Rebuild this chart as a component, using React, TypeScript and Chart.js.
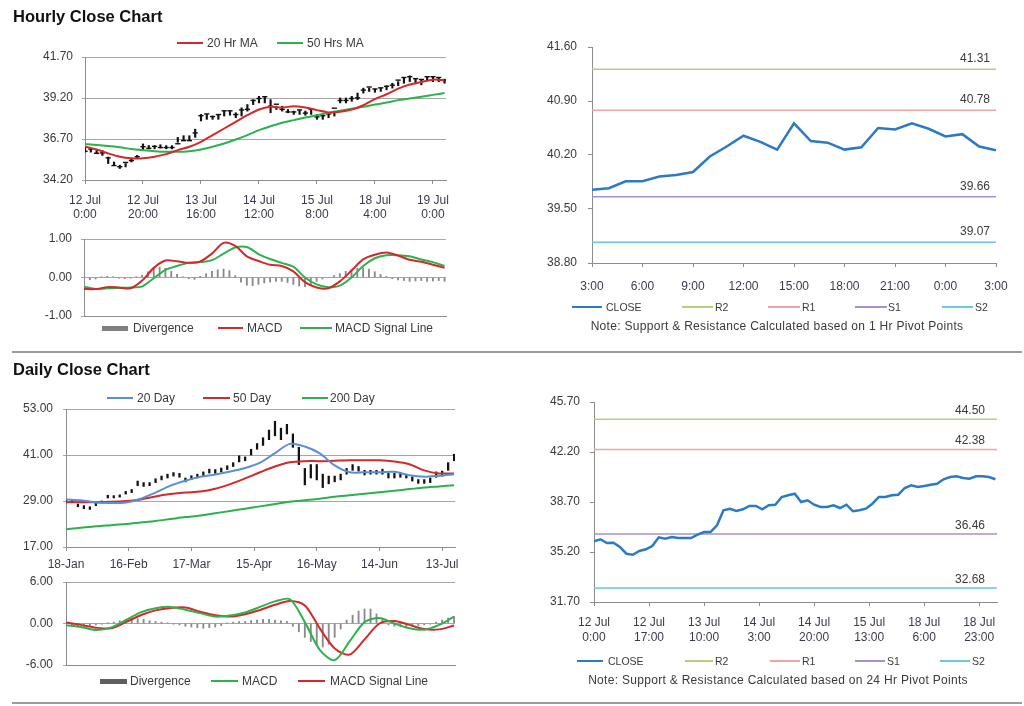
import React, { useEffect, useRef } from "react";
import { Chart, registerables } from "chart.js";

Chart.register(...registerables);

const FONT = '"Liberation Sans", Arial, Helvetica, sans-serif';
Chart.defaults.font.family = FONT;

// ---------------- DATA ----------------
// Hourly close chart (bars every 2 hours, MA / MACD every 4 hours)
const hourlyTickBars = [0, 20, 40, 60, 80, 100, 120];
const hourlyTickLabels = [
  ["12 Jul", "0:00"], ["12 Jul", "20:00"], ["13 Jul", "16:00"], ["14 Jul", "12:00"],
  ["15 Jul", "8:00"], ["18 Jul", "4:00"], ["19 Jul", "0:00"],
];
const hourlyPriceTicks = [34.2, 36.7, 39.2, 41.7];
const hourlyLow = [
  35.9, 35.9, 35.8, 35.7, 35.2, 35.1, 34.9, 35.0, 35.3, 35.5,
  36.0, 36.1, 36.1, 36.15, 36.1, 36.1, 36.5, 36.6, 36.6, 36.8,
  37.8, 37.9, 37.9, 37.9, 38.1, 38.15, 38.0, 38.1, 38.4, 38.8,
  38.9, 38.9, 38.3, 38.5, 38.4, 38.3, 38.2, 38.2, 38.15, 38.2,
  37.9, 37.9, 38.0, 38.1, 38.9, 38.9, 39.0, 39.1, 39.5, 39.6,
  39.55, 39.6, 39.7, 39.8, 39.95, 40.1, 40.2, 40.1, 40.0, 40.25,
  40.2, 40.2, 40.1,
];
const hourlyHigh = [
  36.2, 36.1, 36.0, 36.0, 35.6, 35.3, 35.1, 35.2, 35.5, 35.7,
  36.4, 36.3, 36.3, 36.35, 36.3, 36.3, 36.8, 36.9, 36.9, 37.3,
  38.2, 38.2, 38.1, 38.2, 38.4, 38.4, 38.3, 38.6, 38.8, 39.1,
  39.3, 39.3, 39.1, 38.7, 38.7, 38.5, 38.4, 38.45, 38.4, 38.5,
  38.2, 38.2, 38.3, 38.4, 39.2, 39.2, 39.3, 39.5, 39.8, 39.8,
  39.75, 39.8, 39.95, 40.1, 40.2, 40.4, 40.55, 40.35, 40.3, 40.5,
  40.5, 40.45, 40.35,
];
// hourly closes (every 2 hours, 12 Jul 0:00 -> 19 Jul), shown in both hourly price and 24-hr pivot charts
const hourlyClose = [
  35.95, 36.09, 35.83, 35.85, 35.55, 35.08, 35.01, 35.27, 35.39, 35.62,
  36.23, 36.13, 36.25, 36.18, 36.18, 36.18, 36.41, 36.6, 36.6, 37.07,
  38.12, 38.23, 38.07, 38.19, 38.42, 38.42, 38.19, 38.47, 38.51, 39.05,
  39.17, 39.28, 38.7, 38.82, 38.51, 38.35, 38.35, 38.47, 38.28, 38.51,
  38.05, 38.12, 38.23, 38.58, 39.05, 39.05, 39.17, 39.21, 39.68, 39.87,
  39.75, 39.82, 39.91, 39.98, 40.29, 40.45, 40.5, 40.38, 40.33, 40.5,
  40.5, 40.45, 40.29,
];
const hourlyMA20 = [
  36.23, 36.06, 35.82, 35.62, 35.52, 35.52, 35.62, 35.78,
  36.02, 36.23, 36.53, 36.94, 37.34, 37.75, 38.15, 38.5,
  38.66, 38.62, 38.7, 38.62, 38.46, 38.32, 38.36, 38.5,
  38.76, 39.13, 39.43, 39.77, 40.02, 40.18, 40.32, 40.28,
];
const hourlyMA50 = [
  36.39, 36.33, 36.27, 36.19, 36.09, 36.02, 35.96, 35.92,
  35.92, 35.96, 36.06, 36.23, 36.43, 36.67, 36.94, 37.24,
  37.48, 37.69, 37.85, 38.01, 38.15, 38.29, 38.42, 38.54,
  38.66, 38.8, 38.92, 39.07, 39.17, 39.27, 39.39, 39.51,
];
const hourlyMacdTicks = [-1, 0, 1];
const hourlyMacd = [
  -0.3, -0.3, -0.25, -0.26, -0.28, -0.08, 0.25, 0.44,
  0.42, 0.38, 0.42, 0.62, 0.9, 0.82, 0.55, 0.43,
  0.33, 0.3, 0.16, -0.12, -0.26, -0.28, -0.1, 0.18,
  0.47, 0.59, 0.65, 0.57, 0.46, 0.41, 0.33, 0.25,
];
const hourlySignal = [
  -0.24, -0.3, -0.28, -0.27, -0.26, -0.23, -0.02, 0.2,
  0.3, 0.38, 0.4, 0.45, 0.62, 0.78, 0.79, 0.61,
  0.48, 0.38, 0.28, 0.0, -0.18, -0.25, -0.21, 0.0,
  0.3, 0.5, 0.58, 0.58, 0.55, 0.47, 0.4, 0.3,
];
const hourlyDivergence = [
  -0.05, -0.06, -0.04, 0.02, 0.03, 0.02, -0.02, -0.03, -0.02, 0.02,
  0.06, 0.15, 0.24, 0.27, 0.24, 0.16, 0.08, 0.02, -0.03, -0.05,
  0.03, 0.1, 0.16, 0.2, 0.22, 0.18, 0.05, -0.12, -0.2, -0.21,
  -0.18, -0.14, -0.12, -0.1, -0.1, -0.13, -0.18, -0.22, -0.24, -0.2,
  -0.1, -0.04, 0.0, 0.05, 0.1, 0.16, 0.2, 0.24, 0.25, 0.22,
  0.15, 0.08, 0.03, -0.03, -0.06, -0.08, -0.1, -0.09, -0.08, -0.1,
  -0.09, -0.08, -0.1,
];

// Hourly pivot chart (last 24 hours)
const pivotNames = ["R2", "R1", "S1", "S2"];
const hourlyPivotTickHours = [0, 3, 6, 9, 12, 15, 18, 21, 24];
const hourlyPivotTickLabels = ["3:00", "6:00", "9:00", "12:00", "15:00", "18:00", "21:00", "0:00", "3:00"];
const hourlyPivotTicks = [38.8, 39.5, 40.2, 40.9, 41.6];
const hourlyPivotClose = [
  39.75, 39.77, 39.86, 39.86, 39.92, 39.94, 39.98, 40.18, 40.31, 40.45,
  40.37, 40.27, 40.61, 40.38, 40.36, 40.27, 40.3, 40.55, 40.53, 40.61,
  40.54, 40.44, 40.47, 40.31, 40.26,
];
const hourlyPivotLevels = [41.31, 40.78, 39.66, 39.07];

// Daily close chart (bars every 2 days, MA / MACD every 5 days)
const dailyTickBars = [0, 21, 42, 63, 84, 105, 126];
const dailyTickLabels = ["18-Jan", "16-Feb", "17-Mar", "15-Apr", "16-May", "14-Jun", "13-Jul"];
const dailyPriceTicks = [17, 29, 41, 53];
const dailyLow = [
  28.5, 28.8, 27.5, 27.0, 26.8, 27.8, 28.5, 29.8, 29.8, 30.0,
  30.8, 31.2, 33.0, 32.8, 33.0, 33.8, 34.5, 35.0, 35.5, 35.2,
  34.0, 34.6, 35.0, 35.6, 36.3, 36.2, 36.6, 37.2, 38.0, 39.2,
  39.5, 41.0, 42.5, 43.5, 45.0, 46.0, 45.0, 46.5, 43.0, 38.5,
  33.2, 35.0, 34.5, 32.5, 33.5, 34.0, 34.5, 36.0, 37.0, 36.8,
  35.8, 36.0, 36.0, 36.0, 35.0, 35.0, 35.2, 35.0, 34.2, 33.6,
  33.6, 33.8, 35.2, 35.5, 37.0, 39.5,
];
const dailyHigh = [
  29.5, 29.3, 28.2, 27.8, 27.5, 28.5, 29.0, 30.5, 30.4, 30.6,
  31.5, 32.0, 34.2, 33.8, 33.8, 34.8, 35.5, 36.0, 36.4, 36.2,
  35.0, 35.6, 36.0, 36.6, 37.3, 37.2, 37.6, 38.2, 39.0, 40.8,
  40.5, 42.5, 44.0, 45.5, 47.5, 49.8, 48.0, 49.0, 46.5, 43.0,
  37.5, 38.5, 38.5, 36.0, 35.5, 35.5, 36.0, 37.5, 38.5, 38.0,
  37.0, 37.0, 37.0, 37.3, 36.2, 36.2, 36.5, 36.0, 35.3, 34.6,
  34.6, 35.0, 36.6, 36.8, 39.0, 41.2,
];
const daily20 = [
  29.4, 29.2, 28.6, 28.5, 28.6, 29.6, 31.2, 33.0, 34.3,
  35.3, 35.9, 36.7, 37.6, 39.0, 41.5, 43.9, 43.2, 41.4,
  38.3, 36.5, 36.5, 36.5, 36.6, 35.7, 35.3, 35.6, 36.0,
];
const daily50 = [
  28.7, 28.7, 28.7, 28.8, 29.0, 29.4, 30.2, 30.8, 31.2,
  31.45, 32.2, 33.4, 34.9, 36.5, 38.0, 39.1, 39.4, 39.4,
  39.5, 39.6, 39.6, 39.6, 39.3, 38.6, 37.0, 36.2, 36.2,
];
const daily200 = [
  21.6, 22.0, 22.4, 22.7, 23.0, 23.4, 23.8, 24.3, 24.8,
  25.2, 25.8, 26.4, 27.0, 27.6, 28.2, 28.8, 29.2, 29.6,
  30.1, 30.5, 30.9, 31.3, 31.7, 32.1, 32.5, 32.8, 33.1,
];
const dailyMacdTicks = [-6, 0, 6];
const dailyMacd = [
  -0.25, -0.5, -0.95, -0.6, 0.5, 1.6, 2.2, 2.4, 2.0,
  1.5, 1.0, 1.15, 1.6, 2.4, 3.2, 3.5, 0.2, -3.8,
  -5.3, -2.6, 0.2, 0.8, 0.0, -0.7, -0.9, -0.2, 1.0,
];
const dailySignal = [
  0.15, -0.2, -0.6, -0.7, 0.2, 1.2, 1.9, 2.25, 2.3,
  1.7, 1.2, 1.0, 1.35, 1.95, 2.7, 3.25, 2.6, -0.7,
  -3.6, -4.5, -2.3, 0.0, 0.35, -0.2, -0.8, -0.85, -0.3,
];
const dailyDivergence = [
  -0.3, -0.3, -0.3, -0.4, -0.3, -0.2, -0.1, 0.1, 0.2, 0.4,
  0.5, 0.6, 0.7, 0.6, 0.4, 0.3, 0.2, 0.1, -0.1, -0.2,
  -0.4, -0.5, -0.6, -0.7, -0.6, -0.5, -0.3, 0.1, 0.2, 0.3,
  0.3, 0.4, 0.5, 0.6, 0.6, 0.5, 0.4, 0.3, -0.4, -1.2,
  -2.0, -2.6, -3.2, -3.4, -3.0, -2.0, -0.8, 0.5, 1.2, 1.8,
  2.1, 2.1, 1.4, 0.6, -0.2, -0.4, -0.5, -0.5, -0.4, -0.3,
  -0.2, -0.1, 0.2, 0.5, 0.8, 1.0,
];

// Daily pivot chart (hourly closes, every 2 hours)
const dailyPivotTickBars = [0, 17, 34, 51, 68, 85, 102, 119];
const dailyPivotTickLabels = [
  ["12 Jul", "0:00"], ["12 Jul", "17:00"], ["13 Jul", "10:00"], ["14 Jul", "3:00"],
  ["14 Jul", "20:00"], ["15 Jul", "13:00"], ["18 Jul", "6:00"], ["18 Jul", "23:00"],
];
const dailyPivotTicks = [31.7, 35.2, 38.7, 42.2, 45.7];
const dailyPivotLevels = [44.5, 42.38, 36.46, 32.68];

// ---------------- STYLE / LAYOUT ----------------
const PAGE_W = 1024;
const PAGE_H = 706;
const TEXT = "#3a3a3a";
const XTEXT = "#40384a";
const GRID = "#a6a6a6";
const AXIS = "#8c8c8c";
const RED = "#d4282b";
const GREEN = "#2bb24c";
const BLUE_MA = "#5a8ed6";
const DIV_GRAY = "#8a8a8a";
const CLOSE_BLUE = "#2a7bc3";
const PIVOT_COLORS = ["#b4cf7c", "#f2a3a3", "#a890cc", "#68c8dc"];

const HOURLY_BAR_STEP = 2;
const HOURLY_LINE_STEP = 4;
const DAILY_BAR_STEP = 2;
const DAILY_LINE_STEP = 5;

function pts(values: number[], step: number) {
  return values.map((v, i) => ({ x: i * step, y: v }));
}
function rangePts(lows: number[], highs: number[], step: number) {
  return lows.map((lo, i) => ({ x: i * step, y: [lo, highs[i]] }));
}
function levelPts(v: number, x0: number, x1: number) {
  return [{ x: x0, y: v }, { x: x1, y: v }];
}

type Area = { l: number; t: number; r: number; b: number };
type PanelSpec = {
  area: Area; yW: number; xH: number;
  yMin: number; yMax: number; yTicks: number[]; yGrid: boolean; yTickLen: number; yPad: number;
  xMin: number; xMax: number; xTicks: number[]; xLabels: any[] | null; xTickLen: number; xPad: number; xLineHeight: number;
  datasets: any[]; plugins?: any[];
};

function makeConfig(s: PanelSpec): any {
  return {
    type: "bar",
    data: { datasets: s.datasets },
    options: {
      animation: false,
      responsive: false,
      maintainAspectRatio: false,
      devicePixelRatio: 1,
      events: [],
      layout: {
        padding: {
          left: s.area.l - s.yW,
          top: s.area.t,
          right: PAGE_W - s.area.r,
          bottom: PAGE_H - s.area.b - s.xH,
        },
      },
      plugins: { legend: { display: false }, tooltip: { enabled: false }, title: { display: false } },
      scales: {
        x: {
          type: "linear", position: "bottom", min: s.xMin, max: s.xMax, offset: false, bounds: "data",
          afterBuildTicks: (sc: any) => { sc.ticks = s.xTicks.map((v) => ({ value: v })); },
          afterFit: (sc: any) => { sc.height = s.xH; },
          grid: { display: !!s.xLabels, offset: false, drawOnChartArea: false, drawTicks: true, tickLength: s.xTickLen, color: AXIS, lineWidth: 1 },
          border: { display: true, color: AXIS, width: 1 },
          ticks: {
            display: !!s.xLabels, autoSkip: false, maxRotation: 0, minRotation: 0, padding: s.xPad, color: XTEXT,
            font: { family: FONT, size: 12, lineHeight: s.xLineHeight },
            callback: (_v: any, i: number) => (s.xLabels ? s.xLabels[i] : ""),
          },
        },
        y: {
          type: "linear", position: "left", min: s.yMin, max: s.yMax, beginAtZero: false, bounds: "data",
          afterBuildTicks: (sc: any) => { sc.ticks = s.yTicks.map((v) => ({ value: v })); },
          afterFit: (sc: any) => { sc.width = s.yW; },
          grid: { display: true, offset: false, drawOnChartArea: s.yGrid, drawTicks: true, tickLength: s.yTickLen, color: s.yGrid ? GRID : AXIS, lineWidth: 1 },
          border: { display: true, color: AXIS, width: 1 },
          ticks: { padding: s.yPad, color: TEXT, font: { family: FONT, size: 12 }, callback: (v: any) => Number(v).toFixed(2) },
        },
      },
    },
    plugins: s.plugins || [],
  };
}

function pivotLabelPlugin(id: string, values: number[], dxRight: number, dyAbove: number) {
  return {
    id,
    afterDatasetsDraw(chart: any) {
      const { ctx, chartArea, scales } = chart;
      ctx.save();
      ctx.font = `12px ${FONT}`;
      ctx.fillStyle = TEXT;
      ctx.textAlign = "right";
      ctx.textBaseline = "alphabetic";
      values.forEach((v) => {
        const y = scales.y.getPixelForValue(v);
        ctx.fillText(v.toFixed(2), chartArea.right - dxRight, y - dyAbove);
      });
      ctx.restore();
    },
  };
}

const lineDs = (data: any[], color: string, width: number, order: number, tension = 0.3) => ({
  type: "line", data, borderColor: color, borderWidth: width, pointRadius: 0, tension, order, fill: false,
});

// ---------------- PANELS ----------------
const hourlyPriceConfig = () =>
  makeConfig({
    area: { l: 85, t: 57, r: 446, b: 180 }, yW: 85, xH: 45,
    yMin: 34.2, yMax: 41.7, yTicks: hourlyPriceTicks, yGrid: true, yTickLen: 3, yPad: 9,
    xMin: 0, xMax: 124.5, xTicks: hourlyTickBars, xLabels: hourlyTickLabels, xTickLen: 4, xPad: 9, xLineHeight: 1.2,
    datasets: [
      { type: "bar", data: rangePts(hourlyLow, hourlyHigh, HOURLY_BAR_STEP), backgroundColor: "#111", borderWidth: 0, barThickness: 1.5, grouped: false, order: 4 },
      {
        type: "line", data: pts(hourlyClose, HOURLY_BAR_STEP), showLine: false, pointStyle: "line",
        pointRadius: 2.6, pointBorderWidth: 1.4, pointBorderColor: "#111", borderColor: "#111", order: 3,
      },
      lineDs(pts(hourlyMA50, HOURLY_LINE_STEP), GREEN, 2, 2),
      lineDs(pts(hourlyMA20, HOURLY_LINE_STEP), RED, 2, 1),
    ],
  });

const hourlyMacdConfig = () =>
  makeConfig({
    area: { l: 84, t: 239, r: 446, b: 316 }, yW: 84, xH: 0,
    yMin: -1, yMax: 1, yTicks: hourlyMacdTicks, yGrid: true, yTickLen: 3, yPad: 9,
    xMin: 0, xMax: 124.5, xTicks: hourlyTickBars, xLabels: null, xTickLen: 0, xPad: 0, xLineHeight: 1.2,
    datasets: [
      { type: "bar", data: pts(hourlyDivergence, HOURLY_BAR_STEP), backgroundColor: DIV_GRAY, borderWidth: 0, barThickness: 1.2, grouped: false, order: 3 },
      lineDs(pts(hourlySignal, HOURLY_LINE_STEP), GREEN, 2, 2),
      lineDs(pts(hourlyMacd, HOURLY_LINE_STEP), RED, 2, 1),
    ],
  });

const hourlyPivotConfig = () =>
  makeConfig({
    area: { l: 592, t: 47, r: 996, b: 263 }, yW: 70, xH: 45,
    yMin: 38.8, yMax: 41.6, yTicks: hourlyPivotTicks, yGrid: false, yTickLen: 4, yPad: 11,
    xMin: 0, xMax: 24, xTicks: hourlyPivotTickHours, xLabels: hourlyPivotTickLabels, xTickLen: 4, xPad: 12, xLineHeight: 1.2,
    datasets: [
      ...hourlyPivotLevels.map((v, i) => lineDs(levelPts(v, 0, 24), PIVOT_COLORS[i], 1.5, 2, 0)),
      lineDs(pts(hourlyPivotClose, 1), CLOSE_BLUE, 2.5, 1, 0),
    ],
    plugins: [pivotLabelPlugin("hpLabels", hourlyPivotLevels, 6, 7)],
  });

const dailyPriceConfig = () =>
  makeConfig({
    area: { l: 66, t: 409, r: 455, b: 547 }, yW: 66, xH: 30,
    yMin: 17, yMax: 53, yTicks: dailyPriceTicks, yGrid: true, yTickLen: 3, yPad: 10,
    xMin: 0, xMax: 130.3, xTicks: dailyTickBars, xLabels: dailyTickLabels, xTickLen: 4, xPad: 6, xLineHeight: 1.2,
    datasets: [
      { type: "bar", data: rangePts(dailyLow, dailyHigh, DAILY_BAR_STEP), backgroundColor: "#111", borderWidth: 0, barThickness: 1.6, grouped: false, order: 4 },
      lineDs(pts(daily200, DAILY_LINE_STEP), GREEN, 2, 3),
      lineDs(pts(daily50, DAILY_LINE_STEP), RED, 2, 2),
      lineDs(pts(daily20, DAILY_LINE_STEP), BLUE_MA, 2, 1),
    ],
  });

const dailyMacdConfig = () =>
  makeConfig({
    area: { l: 66, t: 582, r: 455, b: 665 }, yW: 66, xH: 0,
    yMin: -6, yMax: 6, yTicks: dailyMacdTicks, yGrid: true, yTickLen: 3, yPad: 10,
    xMin: 0, xMax: 130.3, xTicks: dailyTickBars, xLabels: null, xTickLen: 0, xPad: 0, xLineHeight: 1.2,
    datasets: [
      { type: "bar", data: pts(dailyDivergence, DAILY_BAR_STEP), backgroundColor: DIV_GRAY, borderWidth: 0, barThickness: 1.2, grouped: false, order: 3 },
      lineDs(pts(dailySignal, DAILY_LINE_STEP), RED, 2, 2),
      lineDs(pts(dailyMacd, DAILY_LINE_STEP), GREEN, 2, 1),
    ],
  });

const dailyPivotConfig = () =>
  makeConfig({
    area: { l: 594, t: 402, r: 997, b: 602 }, yW: 70, xH: 45,
    yMin: 31.7, yMax: 45.7, yTicks: dailyPivotTicks, yGrid: false, yTickLen: 4, yPad: 10,
    xMin: 0, xMax: 124.5, xTicks: dailyPivotTickBars, xLabels: dailyPivotTickLabels, xTickLen: 4, xPad: 9, xLineHeight: 1.25,
    datasets: [
      ...dailyPivotLevels.map((v, i) => lineDs(levelPts(v, 0, 124.5), PIVOT_COLORS[i], 1.5, 2, 0)),
      lineDs(pts(hourlyClose, HOURLY_BAR_STEP), CLOSE_BLUE, 2.5, 1, 0),
    ],
    plugins: [pivotLabelPlugin("dpLabels", dailyPivotLevels, 12, 5)],
  });

// ---------------- COMPONENTS ----------------
function ChartCanvas({ make }: { make: () => any }) {
  const ref = useRef<HTMLCanvasElement | null>(null);
  useEffect(() => {
    const chart = new Chart(ref.current as HTMLCanvasElement, make());
    return () => chart.destroy();
  }, []);
  return (
    <canvas
      ref={ref}
      width={PAGE_W}
      height={PAGE_H}
      style={{ position: "absolute", left: 0, top: 0, width: PAGE_W, height: PAGE_H }}
    />
  );
}

type LegendItem = { x1: number; x2: number; tx: number; color: string; label: string; h: number };

function Legend({ items, y, size }: { items: LegendItem[]; y: number; size: number }) {
  return (
    <>
      {items.map((it, i) => (
        <React.Fragment key={i}>
          <div style={{ position: "absolute", left: it.x1, top: y - it.h / 2, width: it.x2 - it.x1, height: it.h, background: it.color }} />
          <div
            style={{
              position: "absolute", left: it.tx, top: y - size * 0.6, fontSize: size, lineHeight: `${size * 1.2}px`,
              color: TEXT, whiteSpace: "nowrap", fontFamily: FONT,
            }}
          >
            {it.label}
          </div>
        </React.Fragment>
      ))}
    </>
  );
}

function Title({ text, top }: { text: string; top: number }) {
  return (
    <div style={{ position: "absolute", left: 13, top, fontSize: 16.5, lineHeight: "16.5px", fontWeight: "bold", color: "#111", fontFamily: FONT, whiteSpace: "nowrap" }}>
      {text}
    </div>
  );
}

function Note({ text, cx, cy }: { text: string; cx: number; cy: number }) {
  return (
    <div
      style={{
        position: "absolute", left: cx - 250, width: 500, top: cy - 7.2, fontSize: 12, lineHeight: "14.4px",
        textAlign: "center", color: TEXT, fontFamily: FONT, letterSpacing: "0.3px", whiteSpace: "nowrap",
      }}
    >
      {text}
    </div>
  );
}

function Separator({ y }: { y: number }) {
  return <div style={{ position: "absolute", left: 12, top: y - 1, width: 1010, height: 2, background: "#9c9c9c" }} />;
}

export default function App() {
  const hourlyPivotLegend: LegendItem[] = [
    { x1: 572, x2: 602, tx: 606, color: CLOSE_BLUE, label: "CLOSE", h: 2.5 },
    { x1: 682, x2: 713, tx: 715, color: PIVOT_COLORS[0], label: pivotNames[0], h: 1.5 },
    { x1: 768, x2: 800, tx: 802, color: PIVOT_COLORS[1], label: pivotNames[1], h: 1.5 },
    { x1: 855, x2: 887, tx: 888, color: PIVOT_COLORS[2], label: pivotNames[2], h: 1.5 },
    { x1: 942, x2: 973, tx: 975, color: PIVOT_COLORS[3], label: pivotNames[3], h: 1.5 },
  ];
  const dailyPivotLegend: LegendItem[] = [
    { x1: 577, x2: 603, tx: 608, color: CLOSE_BLUE, label: "CLOSE", h: 2.5 },
    { x1: 685, x2: 713, tx: 715, color: PIVOT_COLORS[0], label: pivotNames[0], h: 1.5 },
    { x1: 770, x2: 800, tx: 802, color: PIVOT_COLORS[1], label: pivotNames[1], h: 1.5 },
    { x1: 855, x2: 885, tx: 887, color: PIVOT_COLORS[2], label: pivotNames[2], h: 1.5 },
    { x1: 940, x2: 970, tx: 972, color: PIVOT_COLORS[3], label: pivotNames[3], h: 1.5 },
  ];
  return (
    <div style={{ position: "absolute", left: 0, top: 0, width: PAGE_W, height: PAGE_H, overflow: "hidden", background: "#fff", fontFamily: FONT }}>
      <ChartCanvas make={hourlyPriceConfig} />
      <ChartCanvas make={hourlyMacdConfig} />
      <ChartCanvas make={hourlyPivotConfig} />
      <ChartCanvas make={dailyPriceConfig} />
      <ChartCanvas make={dailyMacdConfig} />
      <ChartCanvas make={dailyPivotConfig} />

      <Title text="Hourly Close Chart" top={8} />
      <Title text="Daily Close Chart" top={361} />
      <Separator y={352} />
      <Separator y={703} />

      <Legend
        y={43}
        size={12}
        items={[
          { x1: 177, x2: 203, tx: 207, color: RED, label: "20 Hr MA", h: 2 },
          { x1: 277, x2: 303, tx: 307, color: GREEN, label: "50 Hrs MA", h: 2 },
        ]}
      />
      <Legend
        y={328}
        size={12}
        items={[
          { x1: 102, x2: 128, tx: 133, color: "#7f7f7f", label: "Divergence", h: 5 },
          { x1: 218, x2: 243, tx: 247, color: RED, label: "MACD", h: 2 },
          { x1: 300, x2: 332, tx: 335, color: GREEN, label: "MACD Signal Line", h: 2 },
        ]}
      />
      <Legend y={307} size={10.5} items={hourlyPivotLegend} />
      <Note text="Note: Support & Resistance Calculated based on 1 Hr Pivot Points" cx={777} cy={326} />

      <Legend
        y={398}
        size={12}
        items={[
          { x1: 107, x2: 133, tx: 137, color: BLUE_MA, label: "20 Day", h: 2 },
          { x1: 203, x2: 230, tx: 233, color: RED, label: "50 Day", h: 2 },
          { x1: 302, x2: 328, tx: 330, color: GREEN, label: "200 Day", h: 2 },
        ]}
      />
      <Legend
        y={681}
        size={12}
        items={[
          { x1: 100, x2: 127, tx: 130, color: "#5f5f5f", label: "Divergence", h: 5 },
          { x1: 211, x2: 238, tx: 242, color: GREEN, label: "MACD", h: 2 },
          { x1: 298, x2: 325, tx: 330, color: RED, label: "MACD Signal Line", h: 2 },
        ]}
      />
      <Legend y={661} size={10.5} items={dailyPivotLegend} />
      <Note text="Note: Support & Resistance Calculated based on 24 Hr Pivot Points" cx={778} cy={680} />
    </div>
  );
}
